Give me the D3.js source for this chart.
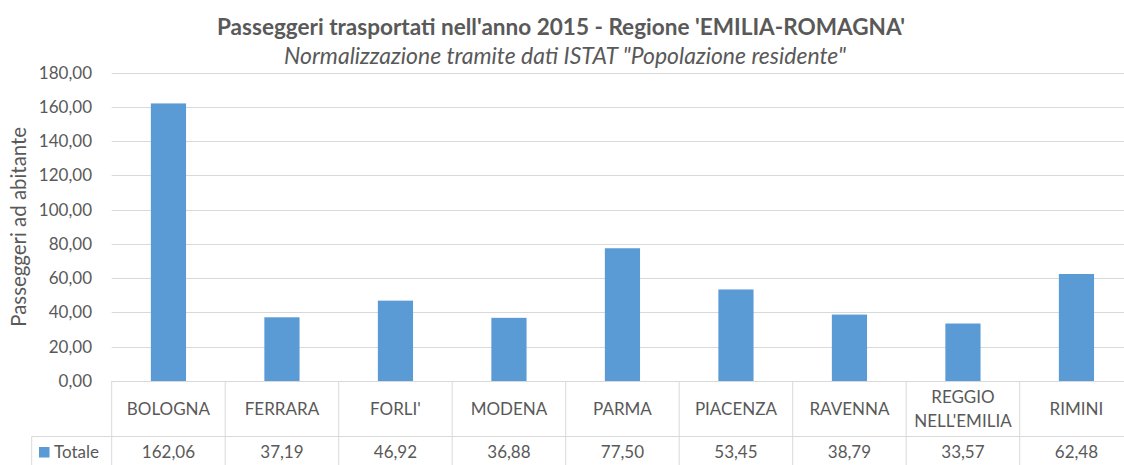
<!DOCTYPE html>
<html>
<head>
<meta charset="utf-8">
<script src="https://cdn.jsdelivr.net/npm/d3@7"></script>
<style>
  html, body { margin: 0; padding: 0; background: #fff; overflow: hidden; }
  svg { display: block; }
  text { font-family: Lato, "Open Sans", sans-serif; fill: #595959; }
</style>
</head>
<body>
<svg id="chart" width="1124" height="465"></svg>
<script>
const categories = ["BOLOGNA", "FERRARA", "FORLI'", "MODENA", "PARMA", "PIACENZA", "RAVENNA", "REGGIO NELL'EMILIA", "RIMINI"];
const categoryLines = [["BOLOGNA"], ["FERRARA"], ["FORLI'"], ["MODENA"], ["PARMA"], ["PIACENZA"], ["RAVENNA"], ["REGGIO", "NELL'EMILIA"], ["RIMINI"]];
const totale = [162.06, 37.19, 46.92, 36.88, 77.50, 53.45, 38.79, 33.57, 62.48];
const yTicks = [0, 20, 40, 60, 80, 100, 120, 140, 160, 180];
const seriesName = "Totale";
const titleText = "Passeggeri trasportati nell'anno 2015 - Regione 'EMILIA-ROMAGNA'";
const subtitleText = "Normalizzazione tramite dati ISTAT \"Popolazione residente\"";
const yAxisTitle = "Passeggeri ad abitante";

const svg = d3.select("#chart");
const plotLeft = 111.7, plotRight = 1133.2, plotTop = 72.7, plotBottom = 381;
const gridColor = "#d9d9d9";
const barColor = "#5b9bd5";
const fmt = v => d3.format(".2f")(v).replace(".", ",");

// scale a text's font-size so that it spans a given width
function fitWidth(sel, target) {
  const fs = parseFloat(sel.attr("font-size"));
  const w = sel.node().getComputedTextLength();
  if (w > 0) sel.attr("font-size", (fs * target / w).toFixed(2));
  return sel;
}

const x = d3.scaleBand().domain(categories).range([plotLeft, plotRight]).paddingInner(0.69).paddingOuter(0.345);
const col = d3.scaleBand().domain(categories).range([plotLeft, plotRight]).padding(0);
const y = d3.scaleLinear().domain([0, 180]).range([plotBottom, plotTop]);

// gridlines
svg.append("g").selectAll("line").data(yTicks.filter(t => t > 0)).join("line")
  .attr("x1", plotLeft).attr("x2", plotRight)
  .attr("y1", d => Math.round(y(d)) + 0.5).attr("y2", d => Math.round(y(d)) + 0.5)
  .attr("stroke", gridColor).attr("stroke-width", 1);

// y tick labels
svg.append("g").selectAll("text").data(yTicks).join("text")
  .attr("x", 92).attr("y", d => y(d)).attr("dy", "0.35em")
  .attr("text-anchor", "end").attr("font-size", 17)
  .text(d => fmt(d));

// bars
svg.append("g").selectAll("rect").data(totale).join("rect")
  .attr("x", (d, i) => x(categories[i]))
  .attr("width", x.bandwidth())
  .attr("y", d => y(d))
  .attr("height", d => y(0) - y(d))
  .attr("fill", barColor);

// data table
const tableRow1 = 436.5;
const tableBottom = 480;
const tg = svg.append("g").attr("stroke", gridColor).attr("stroke-width", 1).attr("fill", "none");
tg.append("line").attr("x1", plotLeft).attr("x2", plotRight).attr("y1", plotBottom + 0.5).attr("y2", plotBottom + 0.5);
tg.append("line").attr("x1", 31.7).attr("x2", plotRight).attr("y1", tableRow1).attr("y2", tableRow1);
tg.append("line").attr("x1", 31.7).attr("x2", plotRight).attr("y1", tableBottom).attr("y2", tableBottom);
tg.append("line").attr("x1", 31.7).attr("x2", 31.7).attr("y1", tableRow1).attr("y2", tableBottom);
tg.selectAll("line.v").data(categories.concat(["__end"])).join("line").attr("class", "v")
  .attr("x1", d => d === "__end" ? plotRight : col(d)).attr("x2", d => d === "__end" ? plotRight : col(d))
  .attr("y1", plotBottom).attr("y2", tableBottom);

// category labels
const catG = svg.append("g").selectAll("text").data(categories).join("text")
  .attr("text-anchor", "middle").attr("font-size", 17)
  .attr("x", d => col(d) + col.bandwidth() / 2);
catG.each(function(d, i) {
  const lines = categoryLines[i];
  const sel = d3.select(this);
  const cy = 409;
  const lh = 23.5;
  lines.forEach((ln, k) => {
    sel.append("tspan")
      .attr("x", col(d) + col.bandwidth() / 2)
      .attr("y", cy + (k - (lines.length - 1) / 2) * lh)
      .attr("dy", "0.35em")
      .text(ln);
  });
});

// values
svg.append("g").selectAll("text").data(totale).join("text")
  .attr("text-anchor", "middle").attr("font-size", 17)
  .attr("x", (d, i) => col(categories[i]) + col.bandwidth() / 2)
  .attr("y", 452).attr("dy", "0.35em")
  .text(d => fmt(d));

// legend key in table
svg.append("rect").attr("x", 39).attr("y", 447).attr("width", 10.5).attr("height", 10.5).attr("fill", barColor);
svg.append("text").attr("x", 54).attr("y", 452).attr("dy", "0.35em").attr("font-size", 17).text(seriesName);

// titles
const t1 = svg.append("text").attr("x", 561).attr("y", 27).attr("dy", "0.35em").attr("text-anchor", "middle")
  .attr("font-size", 20).attr("font-weight", "bold").text(titleText);
fitWidth(t1, 688);
const t2 = svg.append("text").attr("x", 565).attr("y", 56).attr("dy", "0.35em").attr("text-anchor", "middle")
  .attr("font-size", 20).attr("font-style", "italic").text(subtitleText);
fitWidth(t2, 562);

// y axis title
const yt = svg.append("text").attr("transform", `translate(19,${(plotTop + plotBottom) / 2}) rotate(-90)`)
  .attr("dy", "0.35em").attr("text-anchor", "middle").attr("font-size", 18).text(yAxisTitle);
fitWidth(yt, 200);
</script>
</body>
</html>
